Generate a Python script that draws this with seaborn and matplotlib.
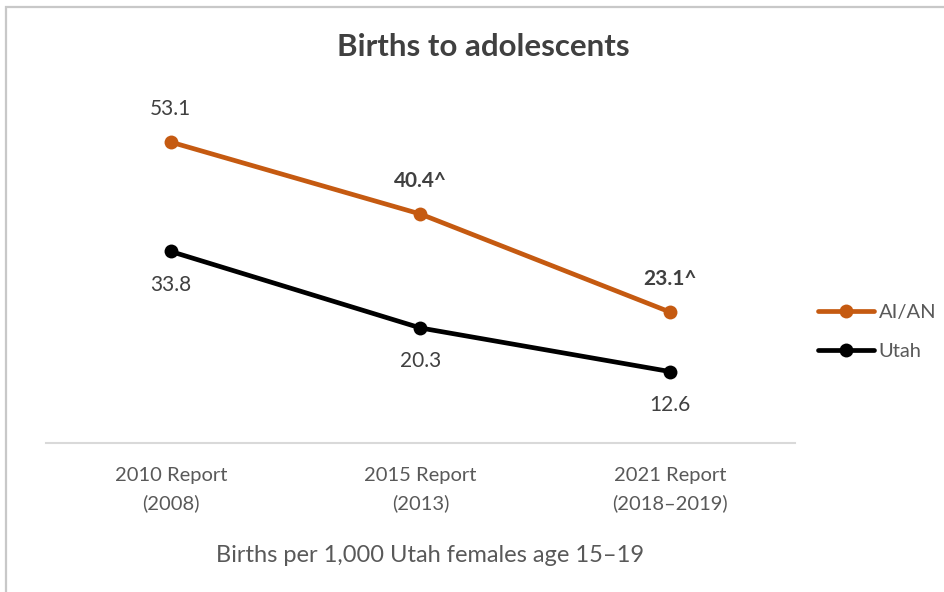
import matplotlib
matplotlib.use("Agg")
import matplotlib.pyplot as plt
from matplotlib.lines import Line2D
from matplotlib.patches import Rectangle
import seaborn as sns
import pandas as pd

# Chart data
reports = ["2010 Report\n(2008)", "2015 Report\n(2013)", "2021 Report\n(2018–2019)"]
series_names = ["AI/AN", "Utah"]
aian = [53.1, 40.4, 23.1]
utah = [33.8, 20.3, 12.6]
aian_flags = ["", "^", "^"]

ORANGE = "#C55A11"
BLACK = "#000000"
TEXT = "#404040"
TICK = "#595959"

sns.set_theme(style="white")
plt.rcParams["font.family"] = ["Lato", "DejaVu Sans"]

df = pd.DataFrame({
    "pos": list(range(len(reports))) * 2,
    "value": aian + utah,
    "series": [series_names[0]] * len(aian) + [series_names[1]] * len(utah),
})

W, H = 945, 592
fig = plt.figure(figsize=(W / 100, H / 100), dpi=100)
fig.patch.set_facecolor("white")

# light frame around the chart area
fig.patches.append(Rectangle((6 / W, -0.05), 1.2, 1 - 7 / H + 0.05,
                             transform=fig.transFigure, fill=False,
                             edgecolor="#C8C8C8", linewidth=1.6))

ax = fig.add_axes([46 / W, 149 / H, 749 / W, 340 / H])
sns.lineplot(data=df, x="pos", y="value", hue="series",
             palette={"AI/AN": ORANGE, "Utah": BLACK},
             marker="o", markersize=10, markeredgewidth=0,
             linewidth=3.4, legend=False, ax=ax)

ax.set_xlim(-0.5, len(reports) - 0.5)
ax.set_ylim(0, 60)
ax.set_xticks(range(len(reports)))
ax.set_xticklabels(reports, fontsize=14.5, color=TICK)
for t in ax.get_xticklabels():
    t.set_linespacing(1.7)
ax.tick_params(axis="x", length=0, pad=17)
ax.set_yticks([])
ax.set_xlabel("")
ax.set_ylabel("")
for side in ["top", "left", "right"]:
    ax.spines[side].set_visible(False)
ax.spines["bottom"].set_color("#D9D9D9")
ax.spines["bottom"].set_linewidth(1.5)

# value labels
for i, (v, f) in enumerate(zip(aian, aian_flags)):
    ax.annotate(f"{v:.1f}{f}", (i, v), xytext=(0, 24), textcoords="offset points",
                ha="center", va="center", fontsize=15, color=TEXT,
                fontweight="bold" if f else "normal")
for i, v in enumerate(utah):
    ax.annotate(f"{v:.1f}", (i, v), xytext=(0, -24), textcoords="offset points",
                ha="center", va="center", fontsize=15, color=TEXT)

fig.text(483 / W, 1 - 47 / H, "Births to adolescents", ha="center", va="center",
         fontsize=22.5, fontweight="bold", color=TEXT)
fig.text(430 / W, 1 - 555 / H, "Births per 1,000 Utah females age 15–19",
         ha="center", va="center", fontsize=17, color=TICK)

handles = [Line2D([], [], color=ORANGE, lw=3.4, marker="o", markersize=10, markeredgewidth=0),
           Line2D([], [], color=BLACK, lw=3.4, marker="o", markersize=10, markeredgewidth=0)]
fig.legend(handles, series_names, loc="center left",
           bbox_to_anchor=(810 / W, 1 - 332 / H), frameon=False,
           fontsize=14.5, labelcolor=TICK, handlelength=2.8,
           handletextpad=0.2, labelspacing=1.1, borderaxespad=0)

fig.savefig("out.png", dpi=100, facecolor="white")
